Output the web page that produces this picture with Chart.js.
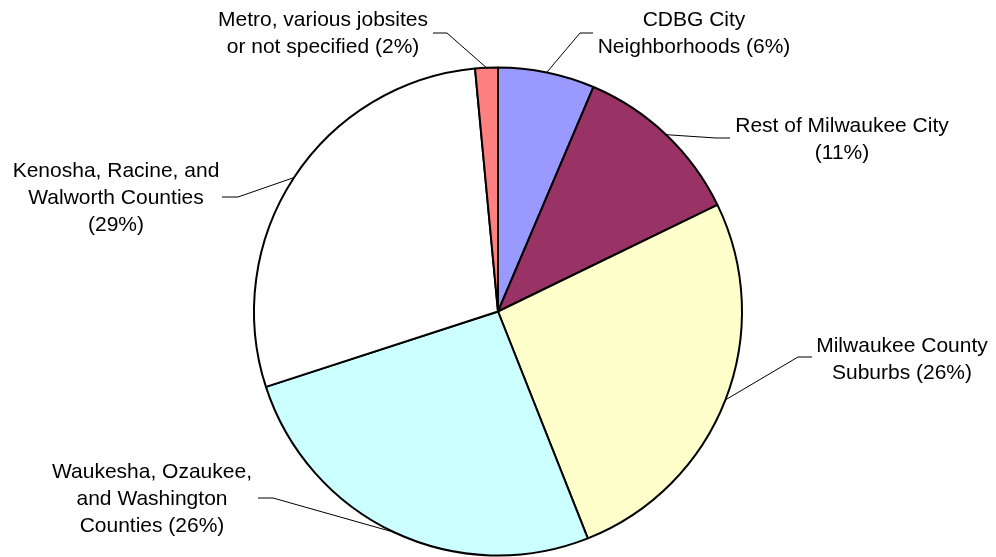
<!DOCTYPE html>
<html lang="en">
<head>
    <meta charset="UTF-8">
    <title>Jobsite locations</title>
    <script src="https://cdn.jsdelivr.net/npm/chart.js"></script>
    <style>
        body { margin: 0; background: #fff; }
    </style>
</head>
<body>
    <canvas id="pieChart" width="996" height="557"></canvas>

    <script>
        // data (clockwise from the top)
        const categories = [
            ['CDBG City', 'Neighborhoods (6%)'],
            ['Rest of Milwaukee City', '(11%)'],
            ['Milwaukee County', 'Suburbs (26%)'],
            ['Waukesha, Ozaukee,', 'and Washington', 'Counties (26%)'],
            ['Kenosha, Racine, and', 'Walworth Counties', '(29%)'],
            ['Metro, various jobsites', 'or not specified (2%)']
        ];
        const shares = [6.4, 11.4, 26.2, 26.0, 28.5, 1.5];

        const colors = ['#9999FF', '#993366', '#FFFFCC', '#CCFFFF', '#FFFFFF', '#FF8080'];

        // where each label sits: text centre x, first baseline, elbow and end of the leader line
        const labelPos = [
            { x: 694, y: 26, elbow: [580, 33], end: [593, 33] },
            { x: 842, y: 132, elbow: [716, 138], end: [730, 138] },
            { x: 902, y: 352, elbow: [798, 357], end: [812, 357] },
            { x: 152, y: 478, elbow: [273, 498], end: [258, 498] },
            { x: 116, y: 177, elbow: [238, 197], end: [222, 197] },
            { x: 323, y: 26, elbow: [447, 33], end: [433, 33] }
        ];

        // draws the outside labels with leader lines from the middle of each slice
        const outsideLabels = {
            id: 'outsideLabels',
            afterDraw(chart) {
                const ctx = chart.ctx;
                const arcs = chart.getDatasetMeta(0).data;
                ctx.save();
                ctx.font = '21px "Liberation Sans", Arial, sans-serif';
                ctx.fillStyle = '#000';
                ctx.textAlign = 'center';
                ctx.textBaseline = 'alphabetic';
                arcs.forEach((arc, i) => {
                    const p = labelPos[i];
                    const mid = (arc.startAngle + arc.endAngle) / 2;
                    const ax = arc.x + Math.cos(mid) * arc.outerRadius;
                    const ay = arc.y + Math.sin(mid) * arc.outerRadius;
                    ctx.strokeStyle = '#000';
                    ctx.lineWidth = 1;
                    ctx.beginPath();
                    ctx.moveTo(ax, ay);
                    ctx.lineTo(p.elbow[0], p.elbow[1]);
                    ctx.lineTo(p.end[0], p.end[1]);
                    ctx.stroke();
                    categories[i].forEach((line, j) => {
                        ctx.fillText(line, p.x, p.y + j * 27);
                    });
                });
                ctx.restore();
            }
        };

        const ctx = document.getElementById('pieChart').getContext('2d');
        const myChart = new Chart(ctx, {
            type: 'pie',
            data: {
                labels: categories.map(c => c.join(' ')),
                datasets: [{
                    data: shares,
                    backgroundColor: colors,
                    borderColor: '#000',
                    borderWidth: 2,
                    borderAlign: 'center'
                }]
            },
            options: {
                responsive: false,
                animation: false,
                layout: {
                    padding: { top: 66, bottom: 0, left: 253, right: 253 }
                },
                plugins: {
                    legend: { display: false },
                    tooltip: { enabled: false }
                }
            },
            plugins: [outsideLabels]
        });
    </script>
</body>
</html>
